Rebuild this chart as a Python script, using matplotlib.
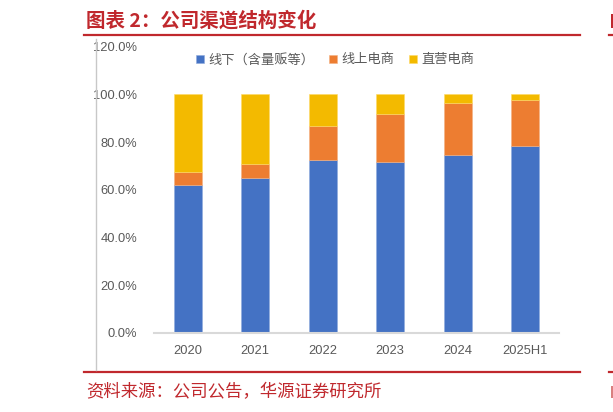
import matplotlib
matplotlib.use('Agg')
import numpy as np
from matplotlib import pyplot as plt
from matplotlib.lines import Line2D
from matplotlib.patches import Rectangle

plt.rcParams['font.family'] = ['Liberation Sans', 'Noto Sans CJK SC', 'DejaVu Sans']

years = ['2020', '2021', '2022', '2023', '2024', '2025H1']
offline = [62.0, 64.8, 72.4, 71.5, 74.4, 78.2]   # 线下（含量贩等）
online = [5.5, 6.1, 14.4, 20.2, 21.9, 19.3]      # 线上电商
direct = [100 - a - b for a, b in zip(offline, online)]  # 直营电商
labels = ['线下（含量贩等）', '线上电商', '直营电商']
colors = ['#4472C4', '#ED7D31', '#F3BA00']
yticks = [0, 20, 40, 60, 80, 100, 120]

red = '#C0282D'
gray = '#595959'

fig = plt.figure(figsize=(6.13, 4.12), dpi=100)
ax = fig.add_axes([154 / 613, 1 - 332.7 / 412, 405 / 613, 286 / 412])

x = np.arange(len(years))
w = 0.41
ax.bar(x, offline, w, color=colors[0], label=labels[0], edgecolor='#8faadc', linewidth=0.4)
ax.bar(x, online, w, bottom=offline, color=colors[1], label=labels[1], edgecolor='#f4b183', linewidth=0.4)
ax.bar(x, direct, w, bottom=[a + b for a, b in zip(offline, online)], color=colors[2],
       label=labels[2], edgecolor='#ffd966', linewidth=0.4)

ax.set_xlim(-0.5, len(years) - 0.5)
ax.set_ylim(0, 120)
ax.set_yticks(yticks)
ax.set_yticklabels([f'{v:.1f}%' for v in yticks])
ax.set_xticks(x)
ax.set_xticklabels(years)
ax.tick_params(axis='both', length=0, labelsize=9.3, labelcolor=gray)
ax.tick_params(axis='y', pad=12)
ax.tick_params(axis='x', pad=9)
for s in ['top', 'right', 'left']:
    ax.spines[s].set_visible(False)
ax.spines['bottom'].set_color('#d9d9d9')
ax.spines['bottom'].set_linewidth(1.5)

fig.legend(loc='center', bbox_to_anchor=(335 / 613, 1 - 60 / 412), ncol=3, frameon=False,
           prop={'family': ['Noto Sans CJK SC'], 'size': 9.5}, labelcolor=gray,
           handlelength=0.6, handleheight=0.6, handletextpad=0.35, columnspacing=1.1)

# frame decorations
fig.add_artist(Line2D([84 / 613, 580 / 613], [1 - 35 / 412] * 2, color=red, lw=1.6))
fig.add_artist(Line2D([84 / 613, 580 / 613], [1 - 372.3 / 412] * 2, color=red, lw=1.6))
fig.add_artist(Line2D([609 / 613, 1], [1 - 35 / 412] * 2, color=red, lw=1.6))
fig.add_artist(Line2D([609 / 613, 1], [1 - 372.3 / 412] * 2, color=red, lw=1.6))
fig.add_artist(Line2D([95.7 / 613] * 2, [1 - 39 / 412, 1 - 370 / 412], color='#c8c8c8', lw=1))
# edge of the neighbouring panel, cut off at the right border
fig.add_artist(Rectangle((610.5 / 613, 1 - 28 / 412), 2.5 / 613, 14 / 412, color=red, lw=0))
fig.add_artist(Rectangle((610.5 / 613, 1 - 398 / 412), 2.5 / 613, 12 / 412, color='#d98080', lw=0))

fig.text(86 / 613, 1 - 21 / 412, '图表 2：公司渠道结构变化', color=red, fontsize=14, fontweight='bold',
         family=['Noto Sans CJK SC'], va='center', ha='left')
fig.text(86 / 613, 1 - 392 / 412, '资料来源：公司公告，华源证券研究所', color=red, fontsize=12.5,
         family=['Noto Sans CJK SC'], va='center', ha='left')

fig.savefig('out.png', dpi=100)
